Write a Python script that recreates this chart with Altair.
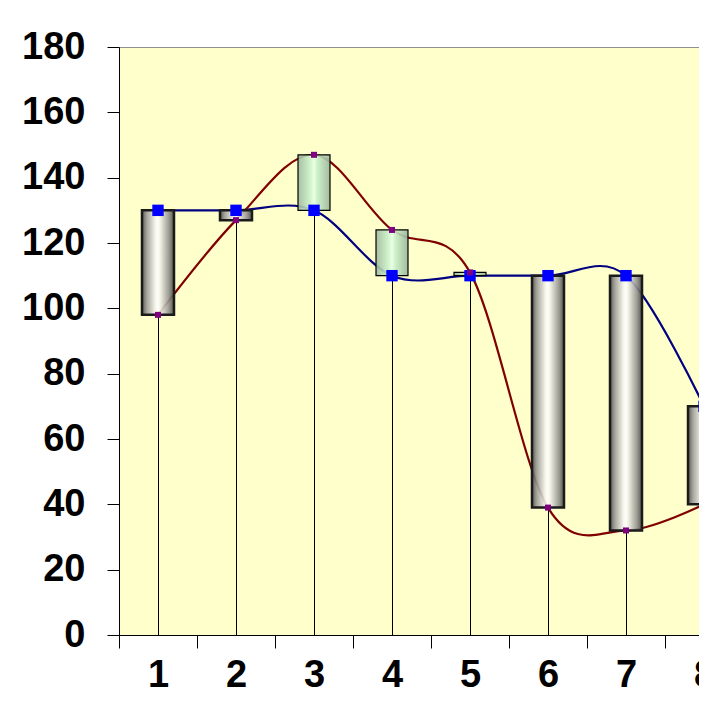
import altair as alt
import pandas as pd

categories = ["1", "2", "3", "4", "5", "6", "7", "8"]
open_vals = [130, 130, 130, 110, 110, 110, 110, 70]
close_vals = [98, 127, 147, 124, 111, 39, 32, 40]

df = pd.DataFrame({"cat": categories, "open": open_vals, "close": close_vals})

FONT = "Liberation Sans"

x_enc = alt.X(
    "cat:O",
    sort=categories,
    scale=alt.Scale(paddingInner=0, paddingOuter=0),
    axis=alt.Axis(
        title=None, labelAngle=0, tickBand="extent", labelFont=FONT,
        labelFontSize=38, labelFontWeight="bold", labelColor="black",
        tickSize=13, tickColor="black", domainColor="black",
        labelPadding=8, grid=False,
    ),
)
y_scale = alt.Scale(domain=[0, 180], nice=False)
y_axis = alt.Axis(
    title=None, values=list(range(0, 181, 20)), labelFont=FONT,
    labelFontSize=38, labelFontWeight="bold", labelColor="black",
    tickSize=12, tickColor="black", domainColor="black", labelPadding=22,
    grid=False,
)

base = alt.Chart(df).transform_calculate(
    low="min(datum.open, datum.close)",
)

rules = base.mark_rule(color="black", strokeWidth=1, xOffset=0.5).encode(
    x=x_enc,
    y=alt.Y("low:Q", scale=y_scale, axis=y_axis),
    y2=alt.datum(0),
)

line_open = base.mark_line(color="#000080", strokeWidth=2.2, interpolate="cardinal").encode(
    x=x_enc, y=alt.Y("open:Q", scale=y_scale)
)
line_close = base.mark_line(color="#800000", strokeWidth=2.2, interpolate="cardinal").encode(
    x=x_enc, y=alt.Y("close:Q", scale=y_scale)
)

gray_grad = alt.Gradient(
    gradient="linear", x1=0, x2=1, y1=0, y2=0,
    stops=[
        alt.GradientStop(offset=0, color="#4a4a4a"),
        alt.GradientStop(offset=0.15, color="#9a9a96"),
        alt.GradientStop(offset=0.42, color="#f4f4ee"),
        alt.GradientStop(offset=0.5, color="#ffffff"),
        alt.GradientStop(offset=0.58, color="#ececE4"),
        alt.GradientStop(offset=0.85, color="#8e8e8a"),
        alt.GradientStop(offset=1, color="#454545"),
    ],
)
green_grad = alt.Gradient(
    gradient="linear", x1=0, x2=1, y1=0, y2=0,
    stops=[
        alt.GradientStop(offset=0, color="#9fb89f"),
        alt.GradientStop(offset=0.4, color="#ccf5cc"),
        alt.GradientStop(offset=0.5, color="#e8ffe8"),
        alt.GradientStop(offset=0.6, color="#c8f0c8"),
        alt.GradientStop(offset=1, color="#9ab49a"),
    ],
)

bars_down = base.transform_filter("datum.close < datum.open").mark_bar(
    size=32, fill=gray_grad, stroke="#1a1a1a", strokeWidth=2.5, fillOpacity=0.9
).encode(x=x_enc, y=alt.Y("open:Q", scale=y_scale), y2="close:Q")

bars_up = base.transform_filter("datum.close >= datum.open").mark_bar(
    size=32, fill=green_grad, stroke="black", strokeWidth=1.2, fillOpacity=0.9
).encode(x=x_enc, y=alt.Y("open:Q", scale=y_scale), y2="close:Q")

pts_open = base.mark_point(shape="square", filled=True, size=130, color="#0000ff", opacity=1).encode(
    x=x_enc, y=alt.Y("open:Q", scale=y_scale)
)
pts_close = base.mark_point(shape="square", filled=True, size=36, color="#800080", opacity=1).encode(
    x=x_enc, y=alt.Y("close:Q", scale=y_scale)
)

chart = (
    alt.layer(rules, line_open, line_close, bars_down, bars_up, pts_open, pts_close)
    .properties(
        width=624, height=588,
        autosize=alt.AutoSizeParams(type="none"),
        padding={"left": 111, "top": 39, "right": -44, "bottom": 64},
        background="white",
    )
    .configure_view(fill="#FFFFCC", stroke="#909090", strokeWidth=1)
)

chart.save("out.html", embed_options={"renderer": "svg", "actions": False})
